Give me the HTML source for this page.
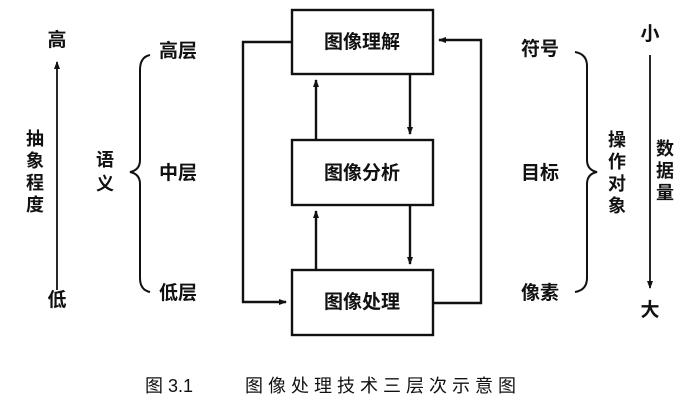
<!DOCTYPE html>
<html><head><meta charset="utf-8"><style>
body{margin:0;background:#fff;width:690px;height:415px;overflow:hidden}
text{font-family:"Liberation Sans","Noto Sans CJK SC",sans-serif;fill:#111;font-weight:bold}
</style></head><body>
<svg width="690" height="415" xmlns="http://www.w3.org/2000/svg">
<defs><marker id="a" markerWidth="8" markerHeight="10" refX="7" refY="5" orient="auto" markerUnits="userSpaceOnUse"><path d="M0,2 L8,5 L0,8 z" fill="#111"/></marker></defs>
<g stroke="#111" fill="none" stroke-width="2.4">
<rect x="292" y="10" width="141" height="64"/>
<rect x="292" y="140" width="141" height="65"/>
<rect x="292" y="270" width="141" height="65"/>
<line x1="316" y1="140" x2="316" y2="80" marker-end="url(#a)"/>
<line x1="316" y1="270" x2="316" y2="211" marker-end="url(#a)"/>
<line x1="410" y1="74" x2="410" y2="134" marker-end="url(#a)"/>
<line x1="410" y1="205" x2="410" y2="264" marker-end="url(#a)"/>
<polyline points="292,42 243,42 243,302 286,302" marker-end="url(#a)"/>
<polyline points="433,303 481,303 481,40 439,40" marker-end="url(#a)"/>
<line x1="57" y1="290" x2="57" y2="62" marker-end="url(#a)" stroke-width="1.8"/>
<line x1="650" y1="55" x2="650" y2="288" marker-end="url(#a)" stroke-width="1.8"/>
<path d="M150,55 Q140,57 140,70 L140,160 Q140,170 130,172 Q140,174 140,184 L140,278 Q140,290 150,292" stroke-width="2"/>
<path d="M230,52 Q242,54 242,66 L242,160 Q242,170 252,172 Q242,174 242,184 L242,278 Q242,290 230,292" stroke-width="2" transform="translate(345,0)"/>
</g>
<g font-size="19" text-anchor="middle">
<text x="362" y="48">图像理解</text>
<text x="362" y="179">图像分析</text>
<text x="362" y="308">图像处理</text>
<text x="57" y="46">高</text>
<text x="57" y="306">低</text>
<text x="178" y="57">高层</text>
<text x="178" y="179">中层</text>
<text x="178" y="299">低层</text>
<text x="540" y="55">符号</text>
<text x="540" y="179">目标</text>
<text x="540" y="299">像素</text>
<text x="650" y="40">小</text>
<text x="650" y="316">大</text>
</g>
<g font-size="18" text-anchor="middle">
<text x="35" y="145">抽</text><text x="35" y="167">象</text><text x="35" y="189">程</text><text x="35" y="211">度</text>
<text x="105" y="166">语</text><text x="105" y="190">义</text>
<text x="617" y="146">操</text><text x="617" y="168">作</text><text x="617" y="190">对</text><text x="617" y="212">象</text>
<text x="665" y="155">数</text><text x="665" y="177">据</text><text x="665" y="199">量</text>
</g>
<g font-size="18" style="font-weight:normal">
<text x="145" y="392" style="font-weight:normal">图 3.1</text>
<text x="245" y="392" style="font-weight:normal;letter-spacing:5px">图像处理技术三层次示意图</text>
</g>
</svg>
</body></html>
